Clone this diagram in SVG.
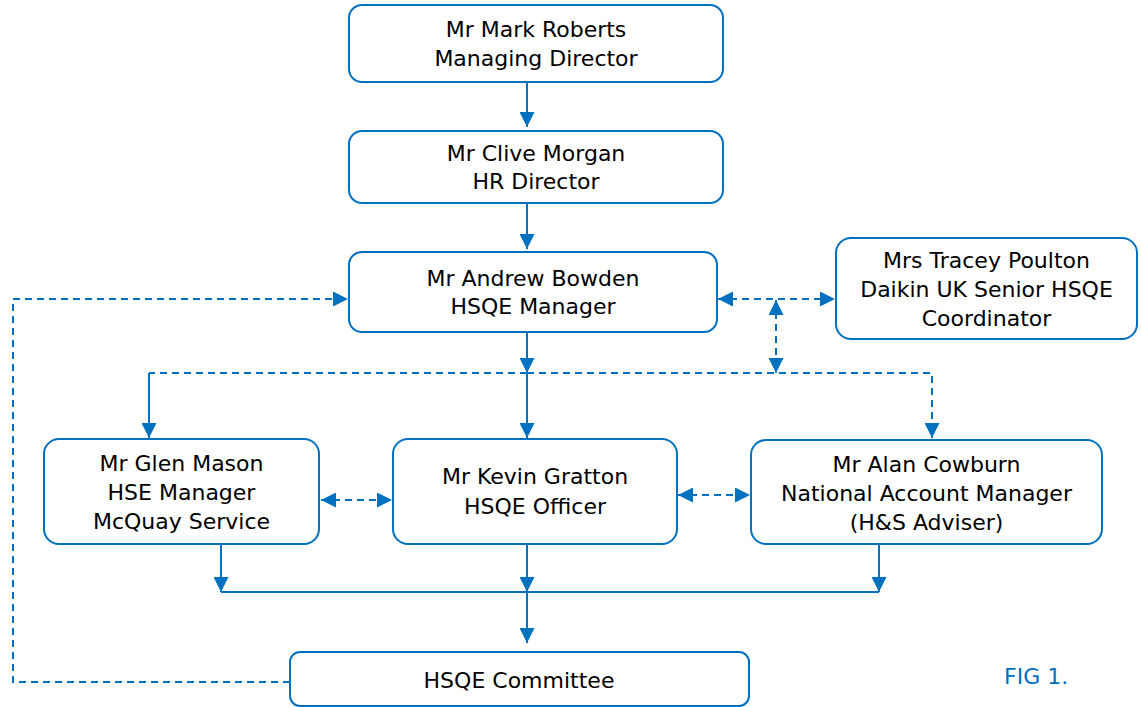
<svg xmlns="http://www.w3.org/2000/svg" width="1141" height="707" viewBox="0 0 1141 707">
<defs>
<style>
.box{fill:#fff;stroke:#0070C0;stroke-width:2}
.t{font-family:"DejaVu Sans","Liberation Sans",sans-serif;font-size:22px;fill:#000;text-anchor:middle}
.c{fill:none;stroke:#0070C0;stroke-width:2}
.d{stroke-dasharray:7 5}
.fig{font-family:"DejaVu Sans","Liberation Sans",sans-serif;font-size:22px;fill:#0070C0}
</style>
<marker id="ah" viewBox="0 0 10 10" refX="10" refY="5" markerWidth="15" markerHeight="15" markerUnits="userSpaceOnUse" orient="auto-start-reverse">
<path d="M0,0 L10,5 L0,10 Z" fill="#0070C0"/>
</marker>
</defs>
<rect width="1141" height="707" fill="#fff"/>
<g id="connectors">
<path class="c" d="M527,82 V127" marker-end="url(#ah)"/>
<path class="c" d="M527,203 V249" marker-end="url(#ah)"/>
<path class="c" d="M527,332 V373" marker-end="url(#ah)"/>
<path class="c" d="M527,373 V438" marker-end="url(#ah)"/>
<path class="c d" d="M527,373 H149"/>
<path class="c" d="M149,373 V438" marker-end="url(#ah)"/>
<path class="c d" d="M527,373 H932 V438" marker-end="url(#ah)"/>
<path class="c d" d="M290,682 H13 V299 H348" marker-end="url(#ah)"/>
<path class="c d" d="M718,299 H835" marker-start="url(#ah)" marker-end="url(#ah)"/>
<path class="c d" d="M776,300 V373" marker-start="url(#ah)" marker-end="url(#ah)"/>
<path class="c d" d="M321,500 H392" marker-start="url(#ah)" marker-end="url(#ah)"/>
<path class="c d" d="M678,495 H750" marker-start="url(#ah)" marker-end="url(#ah)"/>
<path class="c" d="M221,544 V592" marker-end="url(#ah)"/>
<path class="c" d="M527,544 V592" marker-end="url(#ah)"/>
<path class="c" d="M879,544 V592" marker-end="url(#ah)"/>
<path class="c" d="M221,592 H879"/>
<path class="c" d="M527,592 V643" marker-end="url(#ah)"/>
</g>
<g id="n-roberts">
<rect class="box" x="349" y="5" width="374" height="77" rx="13"/>
<text class="t" x="536" y="37">Mr Mark Roberts</text>
<text class="t" x="536" y="66">Managing Director</text>
</g>
<g id="n-morgan">
<rect class="box" x="349" y="131" width="374" height="72" rx="13"/>
<text class="t" x="536" y="161">Mr Clive Morgan</text>
<text class="t" x="536" y="189">HR Director</text>
</g>
<g id="n-bowden">
<rect class="box" x="349" y="252" width="368" height="80" rx="13"/>
<text class="t" x="533" y="286">Mr Andrew Bowden</text>
<text class="t" x="533" y="314">HSQE Manager</text>
</g>
<g id="n-poulton">
<rect class="box" x="836" y="238" width="301" height="101" rx="15"/>
<text class="t" x="986.5" y="268">Mrs Tracey Poulton</text>
<text class="t" x="986.5" y="297">Daikin UK Senior HSQE</text>
<text class="t" x="986.5" y="326">Coordinator</text>
</g>
<g id="n-mason">
<rect class="box" x="44" y="439" width="275" height="105" rx="15"/>
<text class="t" x="181.5" y="471">Mr Glen Mason</text>
<text class="t" x="181.5" y="500">HSE Manager</text>
<text class="t" x="181.5" y="529">McQuay Service</text>
</g>
<g id="n-gratton">
<rect class="box" x="393" y="439" width="284" height="105" rx="15"/>
<text class="t" x="535" y="484">Mr Kevin Gratton</text>
<text class="t" x="535" y="514">HSQE Officer</text>
</g>
<g id="n-cowburn">
<rect class="box" x="751" y="440" width="351" height="104" rx="15"/>
<text class="t" x="926.5" y="472">Mr Alan Cowburn</text>
<text class="t" x="926.5" y="501">National Account Manager</text>
<text class="t" x="926.5" y="530">(H&amp;S Adviser)</text>
</g>
<g id="n-committee">
<rect class="box" x="290" y="652" width="459" height="54" rx="10"/>
<text class="t" x="519" y="688">HSQE Committee</text>
</g>
<text class="fig" x="1004" y="684">FIG 1.</text>
</svg>
